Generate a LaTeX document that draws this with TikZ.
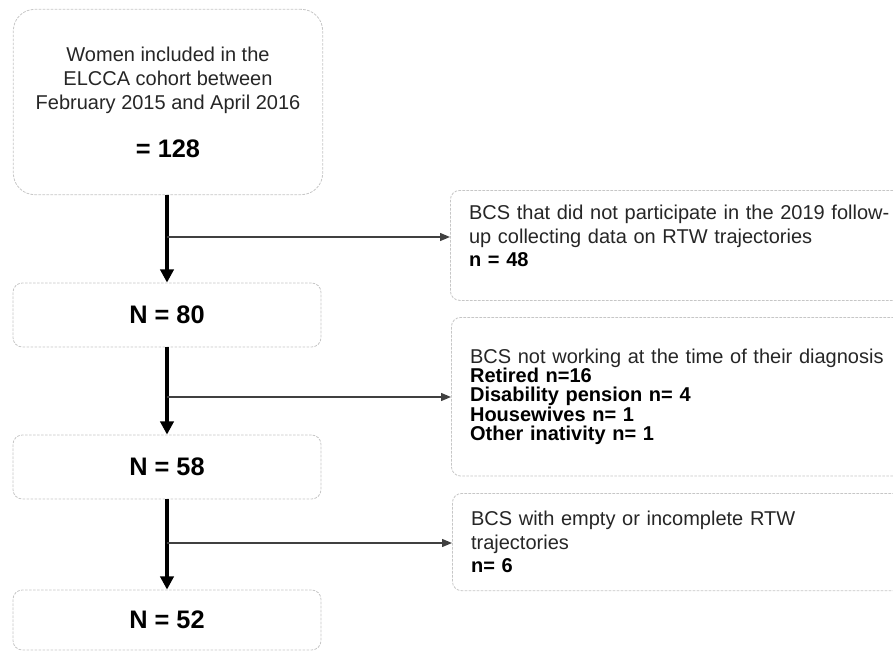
\documentclass[tikz,border=0pt]{standalone}
\usepackage{fontspec}
\setmainfont{Liberation Sans}
\usetikzlibrary{positioning,arrows.meta}

\begin{document}
\begin{tikzpicture}[x=0.75pt,y=-0.75pt,
  flowbox/.style={draw=gray!45, line width=0.6pt, dash pattern=on 2pt off 1pt, rounded corners=7pt, fill=white, inner sep=0pt},
  countbox/.style={flowbox, minimum width=231pt, minimum height=48pt, font=\fontsize{19}{22}\selectfont\bfseries},
  exclbox/.style={flowbox, anchor=north west, align=left, text width=320pt, inner xsep=14pt, text=black!85},
  mainarrow/.style={line width=3pt, -{Triangle[length=10pt,width=10pt]}},
  sidearrow/.style={line width=1pt, black!75, -{Triangle[length=7.5pt,width=6pt]}}]
\useasboundingbox (0,0) rectangle (893,653);

% Main flow (cohort counts)
\node[flowbox, rounded corners=16pt, minimum width=232pt, minimum height=139pt, align=center, text=black!85, font=\fontsize{15}{18}\selectfont] (cohort) at (168,102) {Women included in the\\ELCCA cohort between\\February 2015 and April 2016\\[18pt]\textcolor{black}{\bfseries\fontsize{19}{22}\selectfont = 128}};
\node[countbox] (n80) at (167,315) {N = 80};
\node[countbox] (n58) at (167,467) {N = 58};
\node[countbox, minimum height=45pt] (n52) at (167,620) {N = 52};

% Exclusions
\node[exclbox, minimum width=348pt, minimum height=82.5pt, text depth=49pt, font=\fontsize{15}{17.5}\selectfont] (excl1) at (450,190) {BCS that did not participate in the 2019 follow-\\up collecting data on RTW trajectories\\\textcolor{black}{\bfseries n = 48}};
\node[exclbox, minimum width=348pt, minimum height=119pt, font=\fontsize{15}{14.5}\selectfont] (excl2) at (451,317) {BCS not working at the time of their diagnosis\\\textcolor{black}{\bfseries Retired n=16}\\\textcolor{black}{\bfseries Disability pension n= 4}\\\textcolor{black}{\bfseries Housewives n= 1}\\\textcolor{black}{\bfseries Other inativity n= 1}};
\node[exclbox, minimum width=348pt, minimum height=73pt, font=\fontsize{15}{17.5}\selectfont] (excl3) at (452,493) {BCS with empty or incomplete RTW\\trajectories\\\textcolor{black}{\bfseries n= 6}};

% Branch points on the main arrows
\coordinate (b1) at (167,237);
\coordinate (b2) at (167,397);
\coordinate (b3) at (167,543);

% Arrows
\draw[mainarrow] (cohort.south -| n80.north) -- (n80.north);
\draw[mainarrow] (n80.south) -- (n58.north);
\draw[mainarrow] (n58.south) -- (n52.north);
\draw[sidearrow] (b1) -- (b1 -| excl1.west);
\draw[sidearrow] (b2) -- (b2 -| excl2.west);
\draw[sidearrow] (b3) -- (b3 -| excl3.west);

\end{tikzpicture}
\end{document}
